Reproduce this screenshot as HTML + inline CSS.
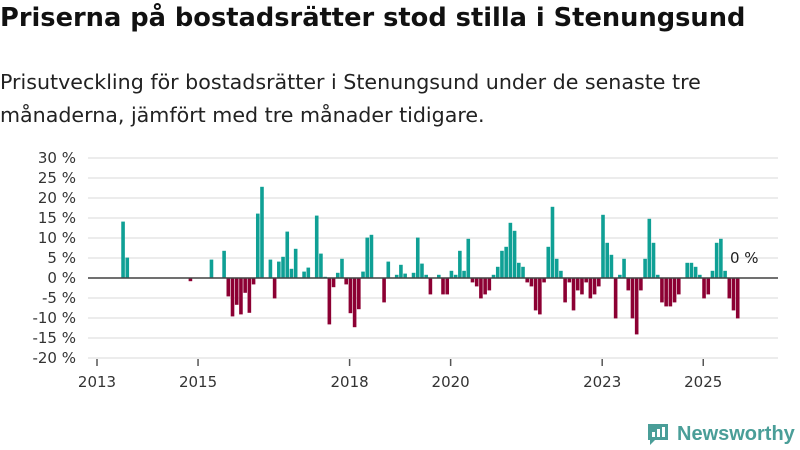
<!DOCTYPE html>
<html><head><meta charset="utf-8"><style>
body{margin:0;width:800px;height:450px;background:#fff;font-family:"DejaVu Sans","Liberation Sans",sans-serif;overflow:hidden;position:relative}
h1{position:absolute;left:0;top:3px;margin:0;font-size:25.7px;font-weight:bold;color:#111;white-space:nowrap}
.sub{position:absolute;left:0;top:66px;margin:0;font-size:20.6px;line-height:33px;color:#222;width:800px;white-space:nowrap}
svg{position:absolute;left:0;top:0}
.logo{position:absolute;left:645px;top:421px;font-family:"Liberation Sans",sans-serif;font-size:20px;font-weight:bold;color:#4a9e98;display:flex;align-items:center}
</style></head><body>
<h1>Priserna på bostadsrätter stod stilla i Stenungsund</h1>
<p class="sub">Prisutveckling för bostadsrätter i Stenungsund under de senaste tre<br>månaderna, jämfört med tre månader tidigare.</p>
<svg id="chart" width="800" height="450"></svg>
<div class="logo"><svg width="26" height="26" viewBox="0 0 26 26" style="position:static;margin-right:6px"><path d="M3 3h20v16H10l-5 5v-5H3z" fill="#4a9e98"/><rect x="7" y="11" width="3" height="5" fill="#fff"/><rect x="12" y="8" width="3" height="8" fill="#fff"/><rect x="17" y="6" width="3" height="10" fill="#fff"/></svg>Newsworthy</div>
<script>
const monthIdx=[6,7,22,27,30,31,32,33,34,35,36,37,38,39,41,42,43,44,45,46,47,49,50,52,53,54,55,56,57,58,59,60,61,62,63,64,65,68,69,71,72,73,75,76,77,78,79,81,82,83,84,85,86,87,88,89,90,91,92,93,94,95,96,97,98,99,100,101,102,103,104,105,106,107,108,109,110,111,112,113,114,115,116,117,118,119,120,121,122,123,124,125,126,127,128,129,130,131,132,133,134,135,136,137,138,140,141,142,143,144,145,146,147,148,149,150,151,152];
const values=[14.1,5.1,-0.8,4.6,6.8,-4.6,-9.6,-6.7,-9.1,-3.7,-8.7,-1.6,16.1,22.8,4.6,-5.1,4.1,5.3,11.6,2.3,7.3,1.6,2.6,15.6,6.1,0.3,-11.6,-2.3,1.3,4.8,-1.6,-8.8,-12.3,-7.8,1.6,10.1,10.8,-6.1,4.1,0.8,3.3,1.1,1.3,10.1,3.6,0.8,-4.1,0.8,-4.1,-4.1,1.8,0.8,6.8,1.8,9.8,-1.1,-2.1,-5.1,-4.1,-3.1,0.8,2.8,6.8,7.8,13.8,11.8,3.8,2.8,-1.1,-2.1,-8.1,-9.1,-1.1,7.8,17.8,4.8,1.8,-6.1,-1.1,-8.1,-3.1,-4.1,-1.1,-5.1,-4.1,-2.1,15.8,8.8,5.8,-10.1,0.8,4.8,-3.1,-10.1,-14.1,-3.1,4.8,14.8,8.8,0.8,-6.1,-7.1,-7.1,-6.1,-4.1,3.8,3.8,2.8,0.8,-5.1,-4.1,1.8,8.8,9.8,1.8,-5.1,-8.1,-10.1];
const yTicks=[30,25,20,15,10,5,0,-5,-10,-15,-20];
const xTickYears=[2013,2015,2018,2020,2023,2025];
const lastLabel="0 %";
const svg=document.getElementById('chart');const NS='http://www.w3.org/2000/svg';
const x0=97,pxPerMonth=4.21,zeroY=278,pxPerPct=4;
const xs=m=>x0+m*pxPerMonth; const ys=v=>zeroY-v*pxPerPct;
function el(t,a){const e=document.createElementNS(NS,t);for(const k in a)e.setAttribute(k,a[k]);svg.appendChild(e);return e;}
yTicks.forEach(v=>{const g=el('line',{x1:88,x2:778,y1:ys(v),y2:ys(v),stroke:'#e0e0e0','stroke-width':1.2});


const t=el('text',{x:76,y:ys(v)+5,'text-anchor':'end','font-size':15,fill:'#333'});t.textContent=v+' %';

});
xTickYears.forEach(yr=>{const x=xs((yr-2013)*12);const l=el('line',{x1:x,x2:x,y1:359,y2:366,stroke:'#555','stroke-width':1.5});


const t=el('text',{x:x,y:387,'text-anchor':'middle','font-size':15,fill:'#333'});t.textContent=yr;

});
monthIdx.forEach((m,i)=>{const v=values[i];const y=Math.min(ys(v),zeroY);const h=Math.abs(ys(v)-zeroY);
const r=el('rect',{x:xs(m)-1,y:y,width:3.6,height:Math.max(h,0.5),fill:v>=0?'#0fa095':'#8c0033'});

});
const z=el('line',{x1:88,x2:778,y1:zeroY,y2:zeroY,stroke:'#444','stroke-width':1.5});


const lt=el('text',{x:730,y:263,'font-size':15,fill:'#222'});lt.textContent=lastLabel;


</script>
</body></html>
